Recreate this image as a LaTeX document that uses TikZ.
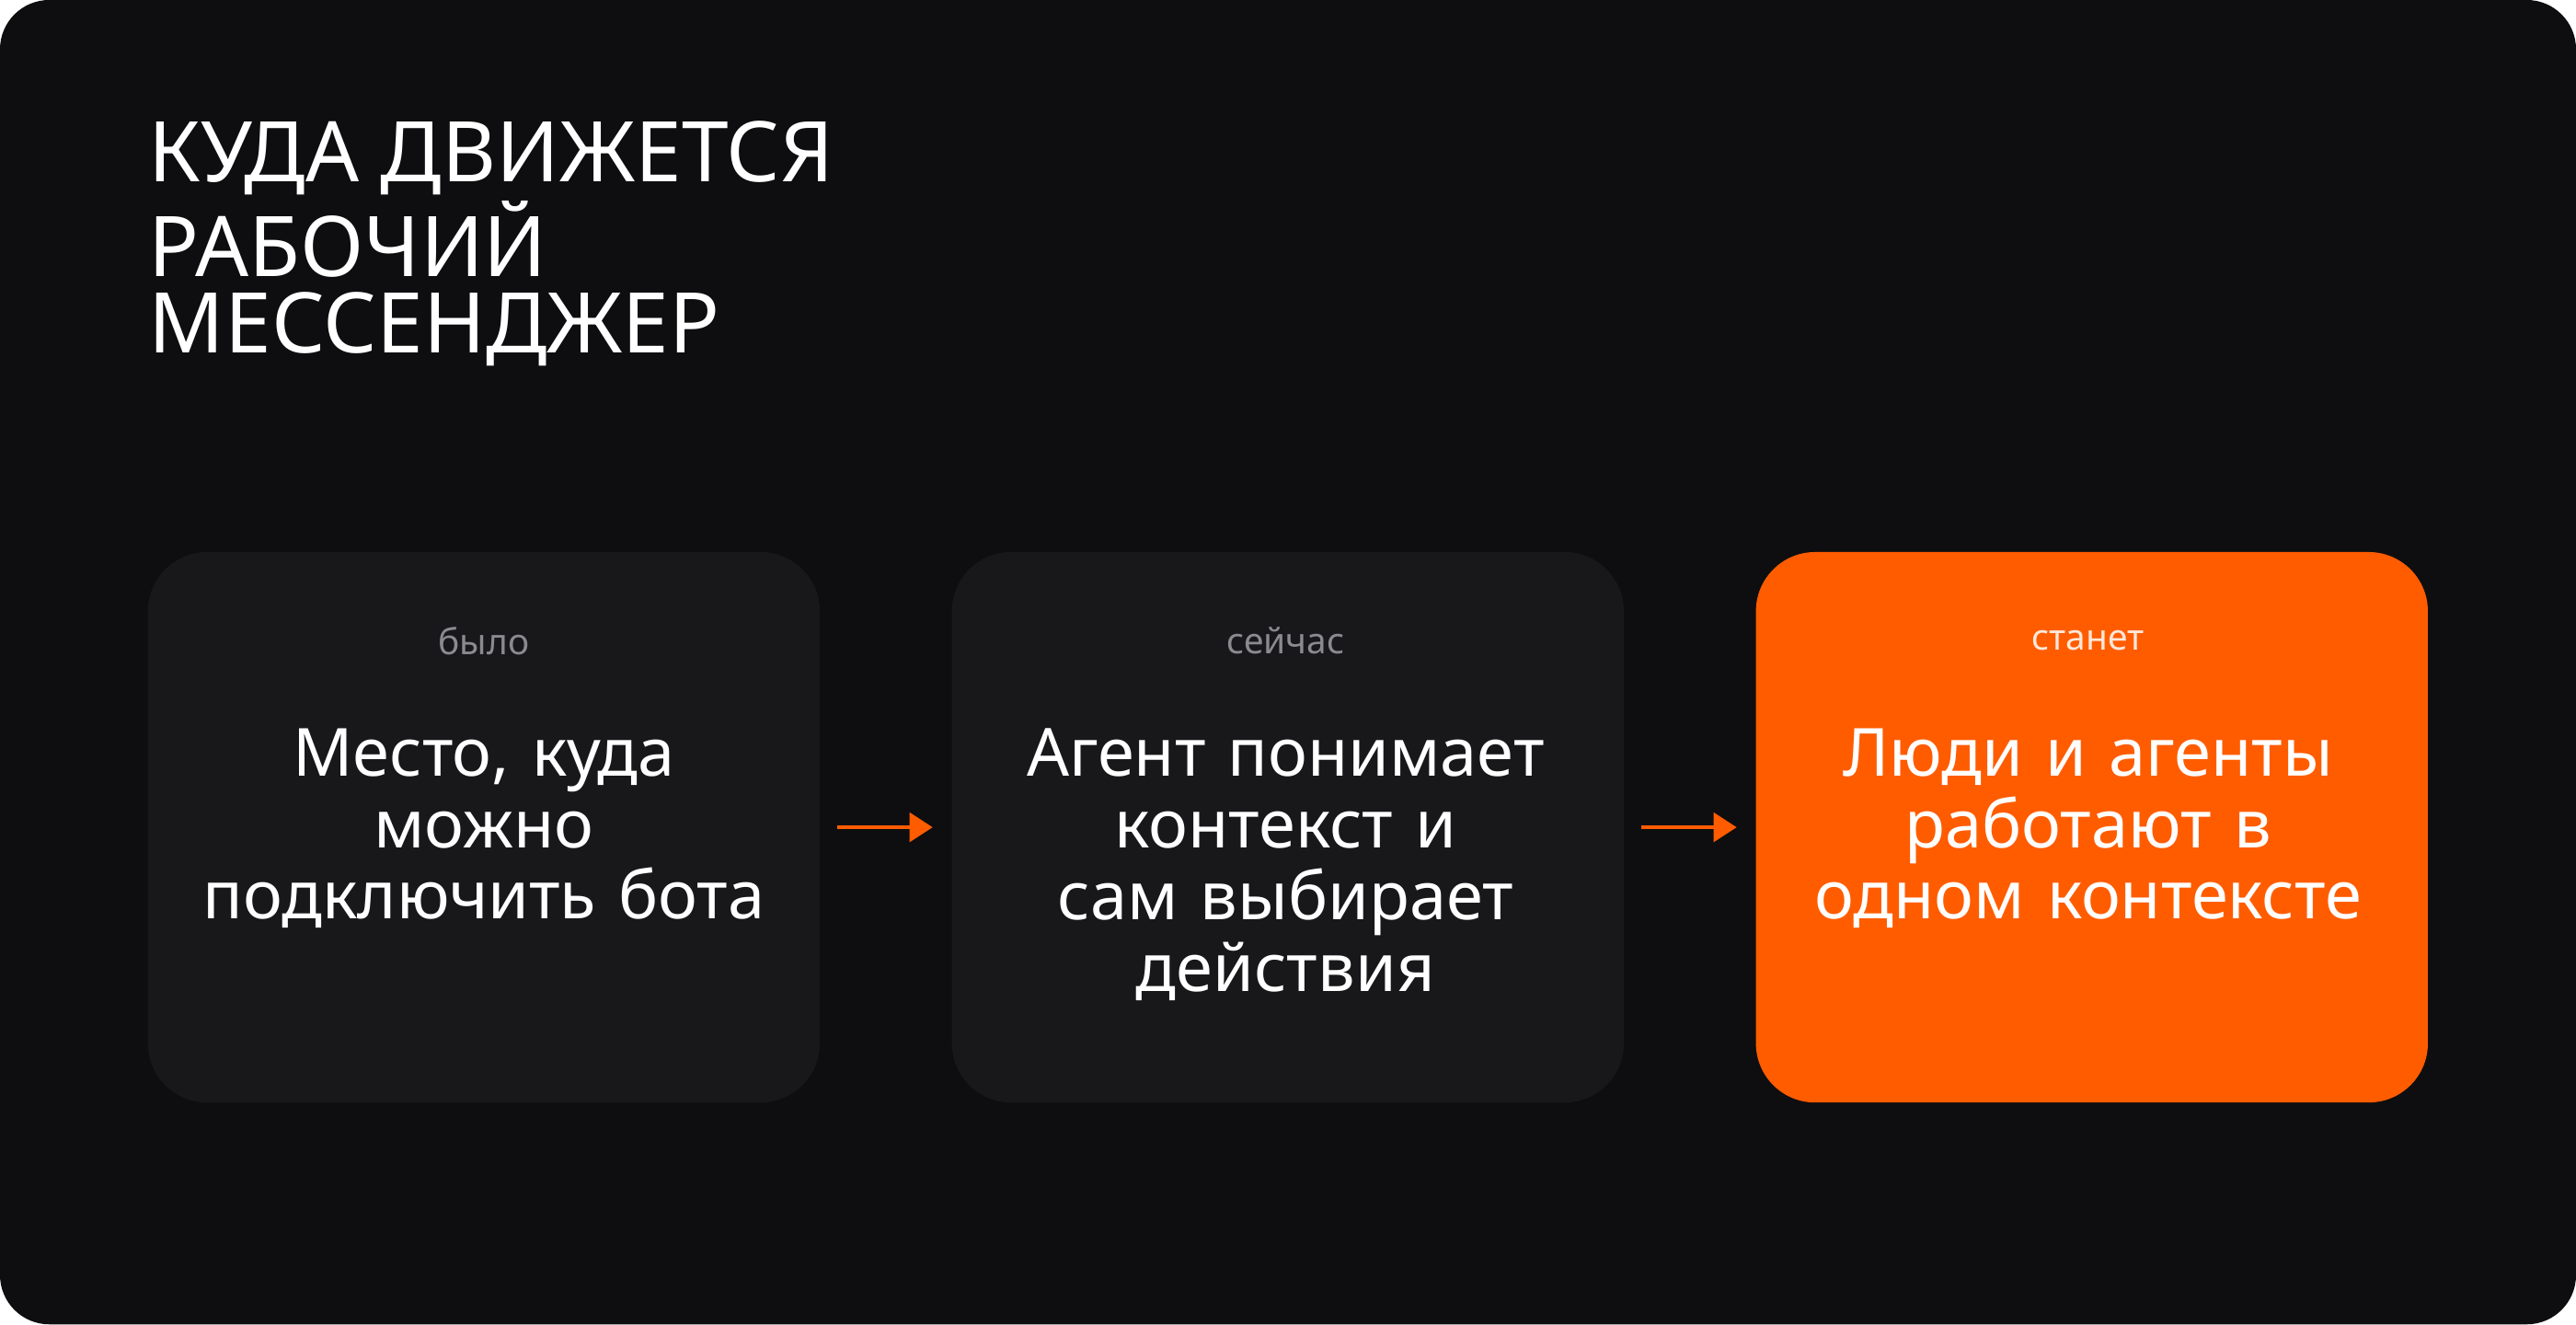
\documentclass[tikz,border=0pt]{standalone}
\usepackage{fontspec}
\setmainfont{Noto Sans}
\usetikzlibrary{positioning,arrows.meta}
\definecolor{bgdark}{HTML}{0E0E10}
\definecolor{cardgray}{HTML}{18181B}
\definecolor{accent}{HTML}{FF5C00}
\definecolor{labelgray}{HTML}{8A8A8F}
\tikzset{
  card/.style={rounded corners=0.36cm, minimum width=4.09cm, minimum height=3.35cm, inner sep=0pt},
  tag/.style={font=\fontsize{6.2}{7}\selectfont, text=labelgray},
  body/.style={font=\fontsize{11.5}{12.4}\selectfont\bfseries, text=white, align=center, text width=3.6cm},
  flow/.style={draw=accent, line width=0.7pt, -{Triangle[length=4pt,width=5pt]}, shorten <=0.1cm, shorten >=0.11cm}
}
\begin{document}
\begin{tikzpicture}
\useasboundingbox (0,0) rectangle (15.68,8.06);
\fill[bgdark, rounded corners=0.3cm] (0,0) rectangle (15.68,8.06);

% title
\node[anchor=north west, align=left, text=white, inner sep=0pt,
      font=\fontsize{14.5}{13.2}\selectfont\bfseries] (title) at (0.9,7.33)
  {КУДА ДВИЖЕТСЯ\\РАБОЧИЙ\\МЕССЕНДЖЕР};

% cards
\node[card, fill=cardgray] (was) at (2.945,3.025) {};
\node[card, fill=cardgray, right=0.79cm of was] (now) {};
\node[card, fill=accent, right=0.79cm of now] (next) {};

\node[tag] at (2.945,4.16) {было};
\node[tag] at (7.825,4.16) {сейчас};
\node[tag, text=white!85!accent] at (12.71,4.16) {станет};

\node[body, anchor=north] at (2.945,3.75) {Место, куда можно подключить бота};
\node[body, anchor=north] at (7.825,3.75) {Агент понимает контекст и сам выбирает действия};
\node[body, anchor=north] at (12.71,3.75) {Люди и агенты работают в одном контексте};

% arrows
\draw[flow] (was) -- (now);
\draw[flow] (now) -- (next);
\end{tikzpicture}
\end{document}
